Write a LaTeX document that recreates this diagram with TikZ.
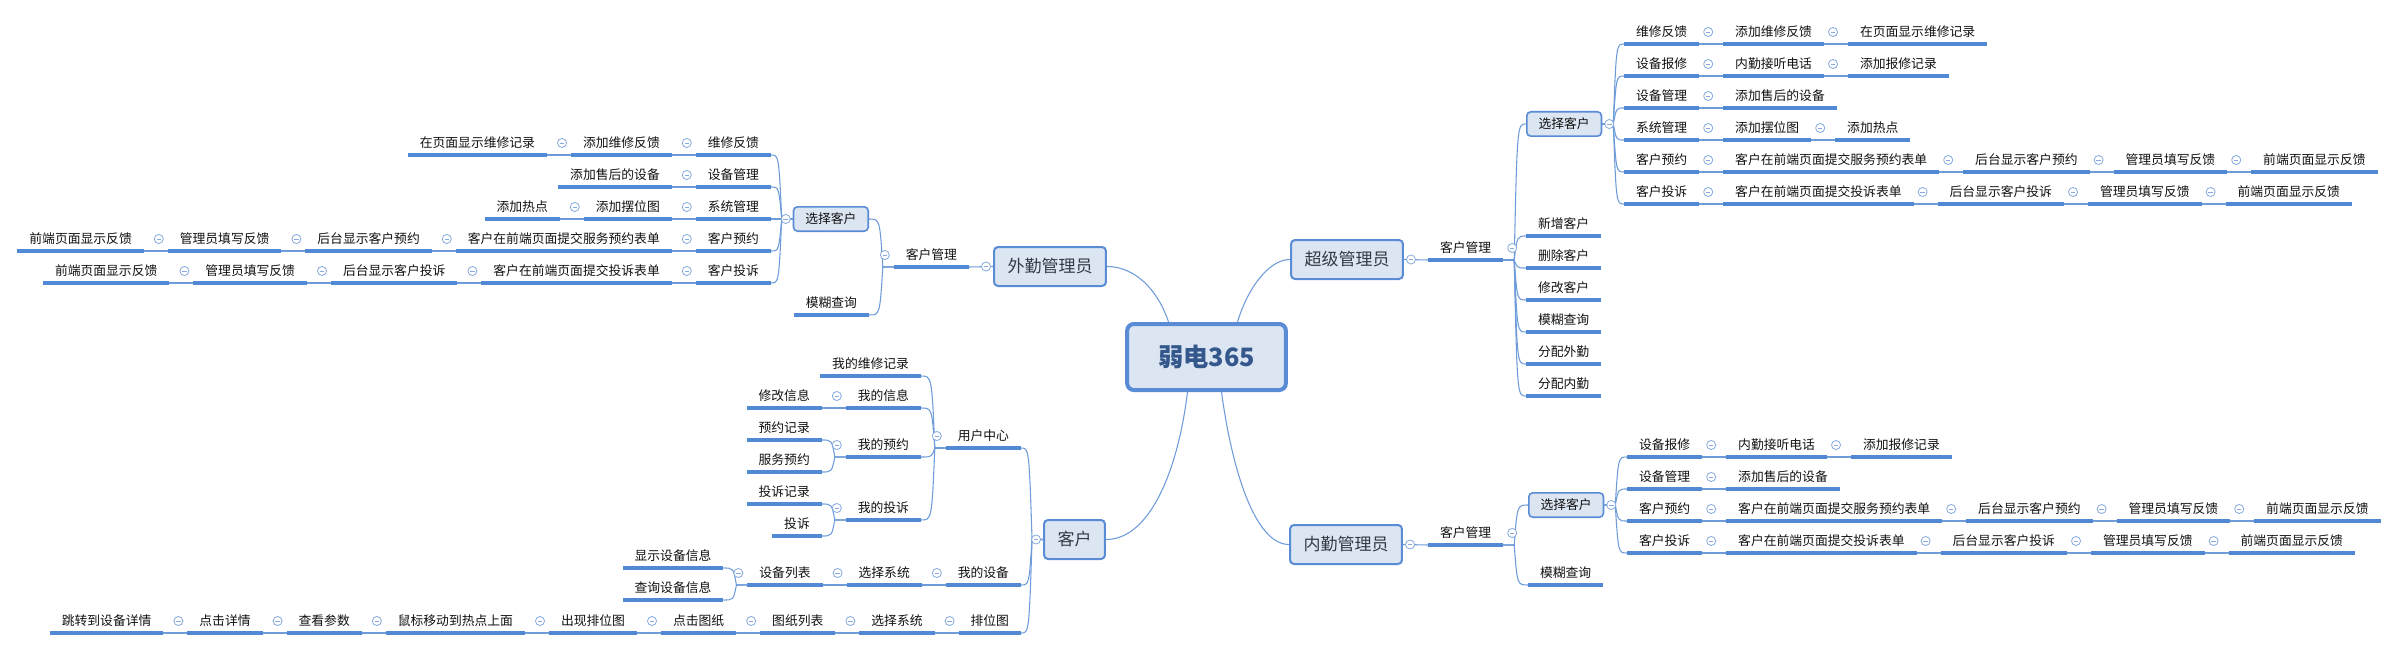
\documentclass[tikz,border=0pt]{standalone}
\usepackage{fontspec}
\setmainfont{Noto Sans CJK SC}
\usetikzlibrary{calc}
\definecolor{ulc}{HTML}{5289D4}
\definecolor{lnc}{HTML}{6E9CDA}
\definecolor{bdc}{HTML}{5A8CD5}
\definecolor{bfc}{HTML}{DCE6F3}
\definecolor{cc}{HTML}{86A9DE}
\definecolor{tx}{HTML}{111111}
\definecolor{txa}{HTML}{333A45}
\definecolor{tcn}{HTML}{34578C}
\newcommand\fsm{\fontsize{9.6pt}{11pt}\selectfont}
\newcommand\fbx{\fontsize{12.75pt}{15pt}\selectfont}
\newcommand\fcn{\fontsize{19pt}{22pt}\selectfont\bfseries}
\newcommand\uR[3]{\node[un,anchor=south west] (#1) at #2 {#3}; \draw[ul] (#1.south west) -- (#1.south east);}
\newcommand\uL[3]{\node[un,anchor=south east] (#1) at #2 {#3}; \draw[ul] (#1.south west) -- (#1.south east);}
\newcommand\cpR[1]{\path (#1.south east) ++(9,-12) pic {clps};}
\newcommand\cpL[1]{\path (#1.south west) ++(-9,-12) pic {clps};}
\newcommand\chR[3]{\uR{#2}{($(#1.south east)+(24,0)$)}{#3}\draw[cn] (#1.south east) -- (#2.south west);\cpR{#1}}
\newcommand\chL[3]{\uL{#2}{($(#1.south west)+(-24,0)$)}{#3}\draw[cn] (#1.south west) -- (#2.south east);\cpL{#1}}
\newcommand\brR[2]{\draw[cn] let \p1=(#1), \p2=(#2) in (\p1) -- (\x1+8.25pt,\y1) .. controls (\x1+10.5pt,\y2) .. (\p2);}
\newcommand\brL[2]{\draw[cn] let \p1=(#1), \p2=(#2) in (\p1) -- (\x1-8.25pt,\y1) .. controls (\x1-10.5pt,\y2) .. (\p2);}
\tikzset{
 un/.style={font=\fsm, text=tx, inner xsep=9pt, inner ysep=4.2pt, text height=8pt, text depth=1.2pt, outer sep=0pt},
 ul/.style={draw=ulc, line width=2.4pt},
 cn/.style={draw=lnc, line width=0.8pt},
 bx/.style={draw=bdc, fill=bfc, rounded corners=3pt},
 ba/.style={bx, line width=1.5pt, font=\fbx, text=txa, inner xsep=10.1pt, inner ysep=0pt, minimum height=29.25pt},
 bc/.style={bx, line width=1.2pt, font=\fsm, text=tx, inner xsep=8.8pt, inner ysep=0pt, minimum height=18.3pt},
 cb/.style={draw=bdc, fill=bfc, line width=3pt, rounded corners=5pt, minimum width=119pt, minimum height=49.5pt, font=\fcn, text=tcn},
 clps/.pic={\draw[draw=cc, fill=white, line width=0.6pt] (0,0) circle[radius=3.4pt];
            \draw[draw=cc, line width=0.6pt] (-1.7pt,0pt) -- (1.7pt,0pt);}
}
\begin{document}
\begin{tikzpicture}[x=0.75pt,y=-0.75pt]
\useasboundingbox (0,0) rectangle (2398,649);
\fill[white] (0,0) rectangle (2398,649);
% central and level 1
\node[cb] (c) at (1206.5,357) {弱电365};
\node[ba] (w) at (1050,266.5) {外勤管理员};
\node[ba] (s) at (1347,259.5) {超级管理员};
\node[ba] (k) at (1074.5,539.5) {客户};
\node[ba] (n) at (1346,544.5) {内勤管理员};
\draw[cn] ($(c.north)+(-38,0)$) .. controls (1158,290) and (1135,266.5) .. (w.east);
\draw[cn] ($(c.north)+(31,0)$) .. controls (1247,290) and (1268,259.5) .. (s.west);
\draw[cn] ($(c.south)+(-19,0)$) .. controls (1178,470) and (1150,539.5) .. (k.east);
\draw[cn] ($(c.south)+(15,0)$) .. controls (1232,470) and (1255,544.5) .. (n.west);
% ===== super admin
\uR{s1}{(1428,260)}{客户管理}
\draw[cn] (s.east) -- (s1.south west);
\node[bc, anchor=west] (s11) at (1526,124) {选择客户};
\uR{s12}{(1526,236)}{新增客户}
\uR{s13}{(1526,268)}{删除客户}
\uR{s14}{(1526,300)}{修改客户}
\uR{s15}{(1526,332)}{模糊查询}
\uR{s16}{(1526,364)}{分配外勤}
\uR{s17}{(1526,396)}{分配内勤}
\brR{s1.south east}{s11.west}
\brR{s1.south east}{s12.south west}
\brR{s1.south east}{s13.south west}
\brR{s1.south east}{s14.south west}
\brR{s1.south east}{s15.south west}
\brR{s1.south east}{s16.south west}
\brR{s1.south east}{s17.south west}
\cpR{s1}
\uR{sa1}{(1624,44)}{维修反馈}
\chR{sa1}{sa2}{添加维修反馈}
\chR{sa2}{sa3}{在页面显示维修记录}
\uR{sb1}{(1624,76)}{设备报修}
\chR{sb1}{sb2}{内勤接听电话}
\chR{sb2}{sb3}{添加报修记录}
\uR{sc1}{(1624,108)}{设备管理}
\chR{sc1}{sc2}{添加售后的设备}
\uR{sd1}{(1624,140)}{系统管理}
\chR{sd1}{sd2}{添加摆位图}
\chR{sd2}{sd3}{添加热点}
\uR{se1}{(1624,172)}{客户预约}
\chR{se1}{se2}{客户在前端页面提交服务预约表单}
\chR{se2}{se3}{后台显示客户预约}
\chR{se3}{se4}{管理员填写反馈}
\chR{se4}{se5}{前端页面显示反馈}
\uR{sf1}{(1624,204)}{客户投诉}
\chR{sf1}{sf2}{客户在前端页面提交投诉表单}
\chR{sf2}{sf3}{后台显示客户投诉}
\chR{sf3}{sf4}{管理员填写反馈}
\chR{sf4}{sf5}{前端页面显示反馈}
\brR{s11.east}{sa1.south west}
\brR{s11.east}{sb1.south west}
\brR{s11.east}{sc1.south west}
\brR{s11.east}{sd1.south west}
\brR{s11.east}{se1.south west}
\brR{s11.east}{sf1.south west}
% ===== inner admin
\uR{n1}{(1428,545)}{客户管理}
\draw[cn] (n.east) -- (n1.south west);
\node[bc, anchor=west] (n11) at (1528,505) {选择客户};
\uR{n12}{(1528,585)}{模糊查询}
\brR{n1.south east}{n11.west}
\brR{n1.south east}{n12.south west}
\cpR{n1}
\uR{na1}{(1627,457)}{设备报修}
\chR{na1}{na2}{内勤接听电话}
\chR{na2}{na3}{添加报修记录}
\uR{nb1}{(1627,489)}{设备管理}
\chR{nb1}{nb2}{添加售后的设备}
\uR{nc1}{(1627,521)}{客户预约}
\chR{nc1}{nc2}{客户在前端页面提交服务预约表单}
\chR{nc2}{nc3}{后台显示客户预约}
\chR{nc3}{nc4}{管理员填写反馈}
\chR{nc4}{nc5}{前端页面显示反馈}
\uR{nd1}{(1627,553)}{客户投诉}
\chR{nd1}{nd2}{客户在前端页面提交投诉表单}
\chR{nd2}{nd3}{后台显示客户投诉}
\chR{nd3}{nd4}{管理员填写反馈}
\chR{nd4}{nd5}{前端页面显示反馈}
\brR{n11.east}{na1.south west}
\brR{n11.east}{nb1.south west}
\brR{n11.east}{nc1.south west}
\brR{n11.east}{nd1.south west}
% ===== outer admin
\uL{w1}{(969,267)}{客户管理}
\draw[cn] (w.west) -- (w1.south east);
\node[bc, anchor=east] (w11) at (869,219) {选择客户};
\uL{w12}{(869,315)}{模糊查询}
\brL{w1.south west}{w11.east}
\brL{w1.south west}{w12.south east}
\cpL{w1}
\uL{wa1}{(771,155)}{维修反馈}
\chL{wa1}{wa2}{添加维修反馈}
\chL{wa2}{wa3}{在页面显示维修记录}
\uL{wb1}{(771,187)}{设备管理}
\chL{wb1}{wb2}{添加售后的设备}
\uL{wc1}{(771,219)}{系统管理}
\chL{wc1}{wc2}{添加摆位图}
\chL{wc2}{wc3}{添加热点}
\uL{wd1}{(771,251)}{客户预约}
\chL{wd1}{wd2}{客户在前端页面提交服务预约表单}
\chL{wd2}{wd3}{后台显示客户预约}
\chL{wd3}{wd4}{管理员填写反馈}
\chL{wd4}{wd5}{前端页面显示反馈}
\uL{we1}{(771,283)}{客户投诉}
\chL{we1}{we2}{客户在前端页面提交投诉表单}
\chL{we2}{we3}{后台显示客户投诉}
\chL{we3}{we4}{管理员填写反馈}
\chL{we4}{we5}{前端页面显示反馈}
\brL{w11.west}{wa1.south east}
\brL{w11.west}{wb1.south east}
\brL{w11.west}{wc1.south east}
\brL{w11.west}{wd1.south east}
\brL{w11.west}{we1.south east}
% ===== customer
\uL{k1}{(1021,448)}{用户中心}
\uL{k2}{(1021,585)}{我的设备}
\uL{k3}{(1021,633)}{排位图}
\brL{k.west}{k1.south east}
\brL{k.west}{k2.south east}
\brL{k.west}{k3.south east}
\uL{k11}{(921,376)}{我的维修记录}
\uL{k12}{(921,408)}{我的信息}
\chL{k12}{k121}{修改信息}
\uL{k13}{(921,457)}{我的预约}
\uL{k131}{($(k13.south west)+(-24,-17)$)}{预约记录}
\uL{k132}{($(k13.south west)+(-24,15)$)}{服务预约}
\uL{k14}{(921,520)}{我的投诉}
\uL{k141}{($(k14.south west)+(-24,-16)$)}{投诉记录}
\uL{k142}{($(k14.south west)+(-24,16)$)}{投诉}
\brL{k1.south west}{k11.south east}
\brL{k1.south west}{k12.south east}
\brL{k1.south west}{k13.south east}
\brL{k1.south west}{k14.south east}
\brL{k13.south west}{k131.south east}
\brL{k13.south west}{k132.south east}
\brL{k14.south west}{k141.south east}
\brL{k14.south west}{k142.south east}
\cpL{k1}
\cpL{k13}
\cpL{k14}
\chL{k2}{k21}{选择系统}
\chL{k21}{k22}{设备列表}
\uL{k221}{($(k22.south west)+(-24,-17)$)}{显示设备信息}
\uL{k222}{($(k22.south west)+(-24,15)$)}{查询设备信息}
\brL{k22.south west}{k221.south east}
\brL{k22.south west}{k222.south east}
\cpL{k22}
\chL{k3}{k31}{选择系统}
\chL{k31}{k32}{图纸列表}
\chL{k32}{k33}{点击图纸}
\chL{k33}{k34}{出现排位图}
\chL{k34}{k35}{鼠标移动到热点上面}
\chL{k35}{k36}{查看参数}
\chL{k36}{k37}{点击详情}
\chL{k37}{k38}{跳转到设备详情}
% box collapse buttons
\path (s.east) ++(7,0) pic {clps};
\path (n.east) ++(7,0) pic {clps};
\path (w.west) ++(-7,0) pic {clps};
\path (k.west) ++(-7,0) pic {clps};
\path (s11.east) ++(7,0) pic {clps};
\path (n11.east) ++(7,0) pic {clps};
\path (w11.west) ++(-7,0) pic {clps};
\end{tikzpicture}
\end{document}
